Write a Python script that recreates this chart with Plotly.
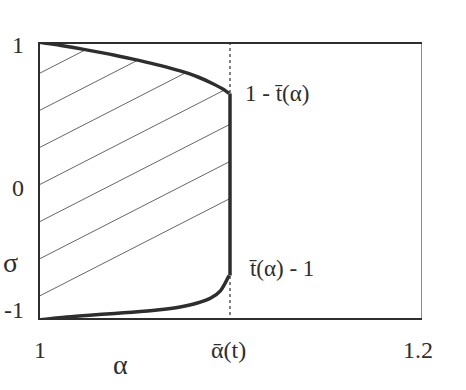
import numpy as np
import plotly.graph_objects as go

# ---- data ----
alpha_bar = 1.1
x_range = [1.0, 1.2]
y_range = [-1.0, 1.0]

upper_alpha = [1.0, 1.012, 1.0245, 1.04, 1.0531, 1.064, 1.074, 1.083, 1.0911, 1.0965, 1.0995]
upper_sigma = [1.0, 0.975, 0.945, 0.905, 0.866, 0.83, 0.792, 0.75, 0.7, 0.66, 0.63]

lower_alpha = [1.0, 1.015, 1.027, 1.04, 1.049, 1.062, 1.074, 1.083, 1.09, 1.095, 1.0995]
lower_sigma = [-1.0, -0.978, -0.965, -0.953, -0.944, -0.928, -0.906, -0.878, -0.842, -0.79, -0.68]

hatch_slope = 7.07
hatch_intercepts = [0.769, 0.502, 0.235, -0.032, -0.299, -0.566, -0.833]

x_tick_vals = [1.0, alpha_bar, 1.2]
x_tick_text = ["1", "\u1fb1(t)", "1.2"]
y_tick_vals = [1.0, 0.0, -1.0]
y_tick_text = ["1", "0", "-1"]

FONT = "'Liberation Serif', 'DejaVu Serif', 'Times New Roman', Times, serif"
INK = "#2e2e2e"

fig = go.Figure()

# hatch lines clipped to the region
xs = np.linspace(1.0, alpha_bar, 4000)
up = np.interp(xs, upper_alpha, upper_sigma)
lo = np.interp(xs, lower_alpha, lower_sigma)
hx, hy = [], []
for b in hatch_intercepts:
    line = b + hatch_slope * (xs - 1.0)
    ok = (line <= up) & (line >= lo)
    if ok.any():
        i0, i1 = np.argmax(ok), len(ok) - 1 - np.argmax(ok[::-1])
        hx += [xs[i0], xs[i1], None]
        hy += [line[i0], line[i1], None]
fig.add_trace(go.Scatter(x=hx, y=hy, mode="lines",
                         line=dict(color="#666666", width=1), hoverinfo="skip"))

# dashed vertical
fig.add_trace(go.Scatter(x=[alpha_bar, alpha_bar], y=[y_range[1], y_range[0]], mode="lines",
                         line=dict(color=INK, width=1.2, dash="3px,3px"), hoverinfo="skip"))

# frame: right thin
fig.add_trace(go.Scatter(x=[x_range[1], x_range[1]], y=[y_range[0], y_range[1]], mode="lines",
                         line=dict(color="#666666", width=1.5), hoverinfo="skip"))
# frame: top, bottom, left thick
fig.add_trace(go.Scatter(x=[x_range[1], x_range[0], x_range[0], x_range[1]],
                         y=[y_range[1], y_range[1], y_range[0], y_range[0]], mode="lines",
                         line=dict(color=INK, width=4), hoverinfo="skip"))

# region boundary curves
fig.add_trace(go.Scatter(x=upper_alpha, y=upper_sigma, mode="lines",
                         line=dict(color=INK, width=3.5, shape="spline", smoothing=0.8),
                         hoverinfo="skip"))
fig.add_trace(go.Scatter(x=[alpha_bar, alpha_bar], y=[upper_sigma[-1], lower_sigma[-1]],
                         mode="lines", line=dict(color=INK, width=3.5), hoverinfo="skip"))
fig.add_trace(go.Scatter(x=lower_alpha, y=lower_sigma, mode="lines",
                         line=dict(color=INK, width=3.5, shape="spline", smoothing=0.8),
                         hoverinfo="skip"))

ann = []
# x tick labels
for v, t, dx in zip(x_tick_vals, x_tick_text, [2, -2, -4]):
    ann.append(dict(x=v, y=-0.108, xref="x", yref="paper", text=t, showarrow=False,
                    xanchor="center", yanchor="middle", xshift=dx,
                    font=dict(family=FONT, size=24, color=INK)))
# y tick labels
for v, t, py in zip(y_tick_vals, y_tick_text, [45, 188, 310]):
    ann.append(dict(x=0, y=(320 - py) / 278, xref="paper", yref="paper", text=t,
                    showarrow=False, xanchor="right", yanchor="middle", xshift=-12,
                    font=dict(family=FONT, size=24, color=INK)))
# axis titles
ann.append(dict(x=0, y=(320 - 365) / 278, xref="paper", yref="paper", text="\u03b1",
                showarrow=False, xanchor="center", yanchor="middle", xshift=82,
                font=dict(family=FONT, size=28, color=INK)))
ann.append(dict(x=0, y=(320 - 262) / 278, xref="paper", yref="paper", text="\u03c3",
                showarrow=False, xanchor="left", yanchor="middle", xshift=-37,
                font=dict(family=FONT, size=28, color=INK)))
# curve-end labels
ann.append(dict(x=alpha_bar, y=upper_sigma[-1], xref="x", yref="y",
                text="1 - t\u0304(\u03b1)", showarrow=False, xanchor="left",
                yanchor="middle", xshift=13,
                font=dict(family=FONT, size=23, color=INK)))
ann.append(dict(x=alpha_bar, y=lower_sigma[-1] + 0.05, xref="x", yref="y",
                text="t\u0304(\u03b1) - 1", showarrow=False, xanchor="left",
                yanchor="middle", xshift=17,
                font=dict(family=FONT, size=23, color=INK)))

fig.update_layout(
    width=466, height=390,
    margin=dict(l=38, r=44, t=42, b=70),
    paper_bgcolor="white", plot_bgcolor="white",
    showlegend=False,
    font=dict(family=FONT),
    xaxis=dict(range=x_range, visible=False),
    yaxis=dict(range=y_range, visible=False),
    annotations=ann,
)
fig.write_html("out.html")
